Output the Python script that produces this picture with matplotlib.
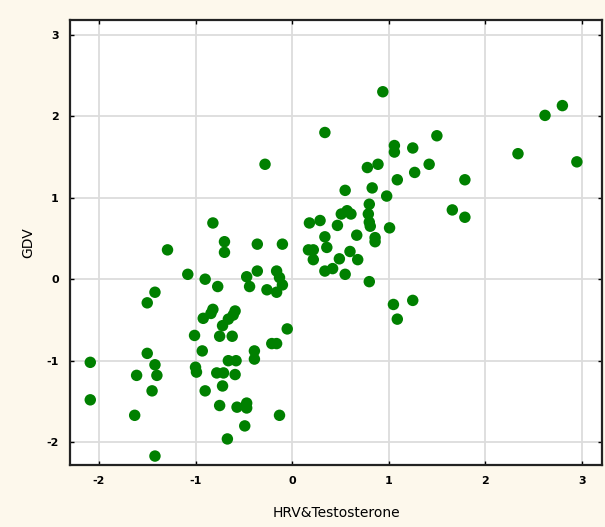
import numpy as np
import matplotlib.pyplot as plt

plt.rcParams['axes.unicode_minus'] = False

# HRV&Testosterone factor score (x) vs GDV factor score (y)
hrv_left = [-2.09, -2.09, -1.63, -1.61, -1.50, -1.42, -1.50, -1.42, -1.40, -1.45,
            -1.42, -1.29, -1.08, -0.90, -0.77, -0.82, -0.70, -0.70, -0.36, -0.10,
            -0.28, -0.47, -0.36, -0.44, -0.26, -0.16, -0.13, -0.10, -0.16, -0.05,
            -0.82, -0.84, -0.92, -0.59, -0.61, -0.66, -0.72, -0.75, -0.62, -1.01,
            -0.93, -1.00, -0.99, -0.78, -0.71, -0.66, -0.58, -0.59, -0.90, -0.72,
            -0.75, -0.57, -0.47, -0.47, -0.49, -0.67, -0.13, -0.39, -0.39, -0.21,
            -0.16]
gdv_left = [-1.02, -1.48, -1.67, -1.18, -0.29, -0.16, -0.91, -1.05, -1.18, -1.37,
            -2.17, 0.36, 0.06, 0.00, -0.09, 0.69, 0.46, 0.33, 0.43, 0.43,
            1.41, 0.03, 0.10, -0.09, -0.13, 0.10, 0.02, -0.07, -0.16, -0.61,
            -0.37, -0.42, -0.48, -0.39, -0.44, -0.49, -0.57, -0.70, -0.70, -0.69,
            -0.88, -1.08, -1.14, -1.15, -1.15, -1.00, -1.00, -1.17, -1.37, -1.31,
            -1.55, -1.57, -1.52, -1.58, -1.80, -1.96, -1.67, -0.88, -0.98, -0.79,
            -0.79]

hrv_right = [0.34, 0.94, 2.62, 2.80, 2.34, 2.95, 1.50, 1.06, 1.06, 1.25,
             1.42, 1.27, 1.09, 1.79, 1.66, 1.79, 0.89, 0.78, 0.83, 0.98,
             0.55, 0.80, 0.79, 0.80, 0.81, 1.01, 0.86, 0.86, 0.57, 0.51,
             0.61, 0.18, 0.29, 0.47, 0.67, 0.34, 0.36, 0.17, 0.22, 0.22,
             0.60, 0.49, 0.68, 0.34, 0.42, 0.55, 0.80, 1.05, 1.09, 1.25]
gdv_right = [1.80, 2.30, 2.01, 2.13, 1.54, 1.44, 1.76, 1.64, 1.56, 1.61,
             1.41, 1.31, 1.22, 1.22, 0.85, 0.76, 1.41, 1.37, 1.12, 1.02,
             1.09, 0.92, 0.80, 0.70, 0.65, 0.63, 0.51, 0.46, 0.84, 0.80,
             0.80, 0.69, 0.72, 0.66, 0.54, 0.52, 0.39, 0.36, 0.36, 0.24,
             0.34, 0.25, 0.24, 0.10, 0.13, 0.06, -0.03, -0.31, -0.49, -0.26]

x = np.array(hrv_left + hrv_right)
y = np.array(gdv_left + gdv_right)

bg = '#fdf8ec'
fig = plt.figure(figsize=(6.05, 5.27), dpi=100, facecolor=bg)
ax = fig.add_axes([0.1157, 0.1176, 0.8793, 0.8444])

ax.grid(True, color='#dcdcdc', linewidth=1.3)
ax.set_axisbelow(True)
ax.scatter(x, y, s=68, color='#008000', edgecolors='none', zorder=3)

ax.set_xlim(-2.30, 3.21)
ax.set_ylim(-2.28, 3.18)
ax.set_xticks([-2, -1, 0, 1, 2, 3])
ax.set_yticks([-2, -1, 0, 1, 2, 3])
ax.tick_params(direction='in', length=3, width=1, labelsize=8,
               top=True, right=True, pad=8)
for lab in ax.get_xticklabels() + ax.get_yticklabels():
    lab.set_fontweight('bold')
for s in ax.spines.values():
    s.set_linewidth(1.6)
    s.set_color('#222222')

ax.set_xlabel('HRV&Testosterone', fontsize=10, labelpad=14)
ax.set_ylabel('GDV', fontsize=10, labelpad=8)

fig.savefig('out.png', dpi=100, facecolor=bg)
